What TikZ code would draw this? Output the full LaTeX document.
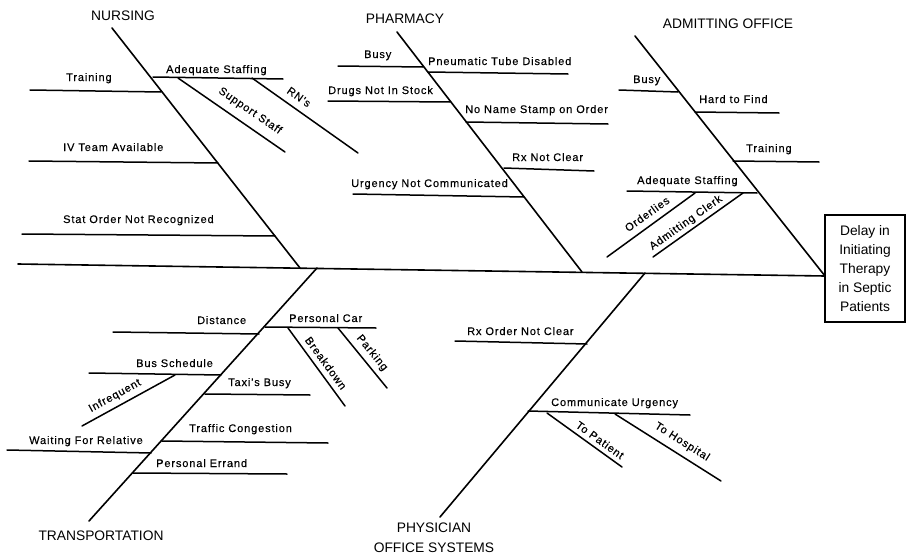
\documentclass[tikz,border=0pt]{standalone}
\usepackage{fontspec}
\setmainfont{Liberation Sans}
\newfontfamily\lblfam[LetterSpace=8,FakeBold=0.3]{Liberation Sans}
\begin{document}
\begin{tikzpicture}[x=1pt,y=-1pt,
  bone/.style={line width=1.6pt, line cap=round},
  twig/.style={line width=1.5pt, line cap=round},
  lbl/.style={font=\lblfam\fontsize{11}{12}\selectfont, inner sep=0pt, anchor=base west},
  rlbl/.style={font=\lblfam\fontsize{11}{12}\selectfont, inner sep=0pt, anchor=center},
  cat/.style={font=\fontsize{13.8}{16}\selectfont, inner sep=0pt, anchor=base},
  effectbox/.style={draw, line width=1.3pt, minimum width=80pt, minimum height=107pt, inner sep=0pt, align=center, font=\fontsize{13.8}{19}\selectfont}]
\useasboundingbox (0,0) rectangle (906,557);

% effect box and spine
\node[effectbox] (effect) at (865,268.5) {Delay in\\Initiating\\Therapy\\in Septic\\Patients};
\coordinate (tail) at (18,264);
\coordinate (head) at (825,276);
\draw[bone] (tail) -- (head);

% category labels
\node[cat] (nursing) at (123,20) {NURSING};
\node[cat] (pharmacy) at (405,23) {PHARMACY};
\node[cat] (admitting) at (728,28) {ADMITTING OFFICE};
\node[cat] (transport) at (101,540) {TRANSPORTATION};
\node[cat] (phys1) at (434,532) {PHYSICIAN};
\node[cat] (phys2) at (434,552) {OFFICE SYSTEMS};

% main bones
\coordinate (nA) at (112,28);  \coordinate (nB) at (300,268);
\coordinate (pA) at (397,32);  \coordinate (pB) at (582,272);
\coordinate (aA) at (635,36);
\coordinate (tA) at (89,521);  \coordinate (tB) at (317,268);
\coordinate (yA) at (440,517); \coordinate (yB) at (645,273);
\draw[bone] (nA) -- (nB);
\draw[bone] (pA) -- (pB);
\draw[bone] (aA) -- (head);
\draw[bone] (tA) -- (tB);
\draw[bone] (yA) -- (yB);

% NURSING
\draw[twig] (30,90) -- (161,92);   \node[lbl] (n1) at (66,81) {Training};
\draw[twig] (153,77) -- (283,79);  \node[lbl] (n2) at (166,73) {Adequate Staffing};
\draw[twig] (178,78) -- (285,152); \node[rlbl, rotate=-34.4] (n3) at (250,111) {Support Staff};
\draw[twig] (252,78) -- (358,153); \node[rlbl, rotate=-35.3] (n4) at (299,97) {RN's};
\draw[twig] (29,161) -- (218,163); \node[lbl] (n5) at (63,151) {IV Team Available};
\draw[twig] (22,234) -- (275,236); \node[lbl] (n6) at (63,223) {Stat Order Not Recognized};

% PHARMACY
\draw[twig] (338,66) -- (423,67);   \node[lbl] (p1) at (364,58) {Busy};
\draw[twig] (428,72) -- (568,74);   \node[lbl] (p2) at (428,65) {Pneumatic Tube Disabled};
\draw[twig] (328,101) -- (450,102); \node[lbl] (p3) at (328,94) {Drugs Not In Stock};
\draw[twig] (466,122) -- (608,124); \node[lbl] (p4) at (465,113) {No Name Stamp on Order};
\draw[twig] (504,168) -- (594,171); \node[lbl] (p5) at (512,161) {Rx Not Clear};
\draw[twig] (353,194) -- (524,197); \node[lbl] (p6) at (351,187) {Urgency Not Communicated};

% ADMITTING OFFICE
\draw[twig] (619,90) -- (678,92);   \node[lbl] (a1) at (633,83) {Busy};
\draw[twig] (695,112) -- (779,113); \node[lbl] (a2) at (699,103) {Hard to Find};
\draw[twig] (733,161) -- (819,162); \node[lbl] (a3) at (746,152) {Training};
\draw[twig] (627,191) -- (757,193); \node[lbl] (a4) at (637,184) {Adequate Staffing};
\draw[twig] (695,193) -- (607,257); \node[rlbl, rotate=35.6] (a5) at (647,214) {Orderlies};
\draw[twig] (743,193) -- (653,257); \node[rlbl, rotate=35.4] (a6) at (686,223) {Admitting Clerk};

% TRANSPORTATION
\draw[twig] (113,332) -- (259,334); \node[lbl] (t1) at (197,324) {Distance};
\draw[twig] (265,327) -- (376,328); \node[lbl] (t2) at (289,322) {Personal Car};
\draw[twig] (288,328) -- (345,406); \node[rlbl, rotate=-53.8] (t3) at (326,363) {Breakdown};
\draw[twig] (338,328) -- (387,388); \node[rlbl, rotate=-50.8] (t4) at (372,353) {Parking};
\draw[twig] (89,373) -- (221,375);  \node[lbl] (t5) at (136,367) {Bus Schedule};
\draw[twig] (175,375) -- (82,426);  \node[rlbl, rotate=28.7] (t6) at (115,396) {Infrequent};
\draw[twig] (205,394) -- (310,395); \node[lbl] (t7) at (228,386) {Taxi's Busy};
\draw[twig] (162,441) -- (328,443); \node[lbl] (t8) at (189,432) {Traffic Congestion};
\draw[twig] (7,450) -- (151,453);   \node[lbl] (t9) at (29,444) {Waiting For Relative};
\draw[twig] (133,473) -- (287,474); \node[lbl] (t10) at (156,467) {Personal Errand};

% PHYSICIAN OFFICE SYSTEMS
\draw[twig] (455,341) -- (587,344); \node[lbl] (y1) at (467,335) {Rx Order Not Clear};
\draw[twig] (528,411) -- (690,415); \node[lbl] (y2) at (551,406) {Communicate Urgency};
\draw[twig] (547,413) -- (622,467); \node[rlbl, rotate=-35.8] (y3) at (600,440) {To Patient};
\draw[twig] (615,414) -- (721,481); \node[rlbl, rotate=-32.3] (y4) at (682,442) {To Hospital};
\end{tikzpicture}
\end{document}
